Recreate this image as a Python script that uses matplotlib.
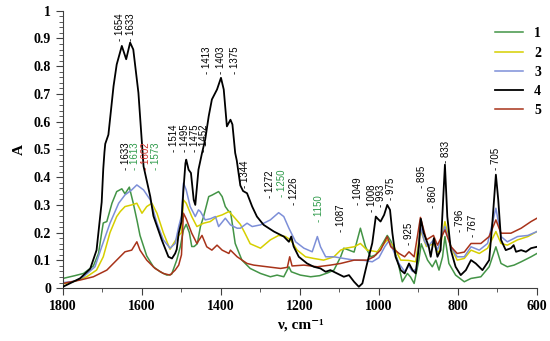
import matplotlib
matplotlib.use('Agg')
import matplotlib.pyplot as plt
from matplotlib.ticker import MultipleLocator

# spectra: wavenumber (cm-1) / absorbance
w1 = [1800, 1770, 1748, 1723, 1710, 1702, 1698, 1689, 1676, 1664, 1651, 1643, 1632, 1622, 1612, 1605,
      1588, 1571, 1554, 1537, 1525, 1512, 1503, 1495, 1488, 1480, 1474, 1468, 1460, 1452, 1444, 1431,
      1423, 1406, 1397, 1389, 1380, 1376, 1370, 1364, 1347, 1326, 1300, 1275, 1258, 1241, 1228, 1222,
      1199, 1173, 1150, 1130, 1114, 1097, 1089, 1076, 1063, 1047, 1034, 1021, 1008, 995, 979, 970,
      953, 941, 928, 920, 911, 899, 893, 877, 865, 856, 848, 839, 833, 823, 806, 784, 767, 742, 721,
      704, 691, 675, 658, 640, 615, 600]
a1 = [0.035, 0.045, 0.053, 0.08, 0.125, 0.2, 0.235, 0.24, 0.306, 0.348, 0.358, 0.34, 0.364, 0.306, 0.24, 0.19,
      0.116, 0.077, 0.059, 0.047, 0.05, 0.101, 0.149, 0.21, 0.23, 0.2, 0.15, 0.15, 0.16, 0.222, 0.258, 0.33,
      0.335, 0.348, 0.33, 0.294, 0.276, 0.276, 0.22, 0.161, 0.101, 0.071, 0.053, 0.041, 0.047, 0.041, 0.077, 0.059,
      0.047, 0.041, 0.045, 0.055, 0.065, 0.113, 0.144, 0.137, 0.13, 0.216, 0.149, 0.113, 0.12, 0.15, 0.19, 0.17,
      0.101, 0.023, 0.053, 0.04, 0.017, 0.101, 0.16, 0.101, 0.077, 0.101, 0.065, 0.113, 0.186, 0.089, 0.047, 0.023, 0.035, 0.041, 0.077,
      0.149, 0.089, 0.077, 0.083, 0.095, 0.113, 0.125]

w2 = [1800, 1770, 1740, 1715, 1698, 1681, 1664, 1655, 1643, 1626, 1613, 1600, 1588, 1575, 1562, 1546,
      1529, 1516, 1507, 1500, 1495, 1488, 1474, 1461, 1444, 1427, 1410, 1397, 1380, 1368, 1351, 1340,
      1326, 1300, 1275, 1254, 1237, 1224, 1207, 1186, 1165, 1140, 1114, 1097, 1084, 1063, 1047, 1030,
      1004, 979, 962, 945, 925, 907, 895, 880, 862, 848, 833, 818, 802, 784, 767, 746, 725, 704, 691,
      675, 649, 623, 600]
a2 = [0.015, 0.025, 0.041, 0.065, 0.113, 0.2, 0.258, 0.276, 0.294, 0.30, 0.306, 0.27, 0.294, 0.306, 0.27, 0.2,
      0.14, 0.17, 0.19, 0.2, 0.318, 0.306, 0.258, 0.222, 0.234, 0.24, 0.258, 0.264, 0.276, 0.258, 0.23, 0.2,
      0.16, 0.144, 0.174, 0.19, 0.186, 0.174, 0.137, 0.113, 0.107, 0.101, 0.113, 0.137, 0.144, 0.149, 0.161, 0.137,
      0.131, 0.174, 0.149, 0.101, 0.10, 0.095, 0.21, 0.15, 0.16, 0.125, 0.24, 0.149, 0.101, 0.107, 0.137, 0.125, 0.144, 0.204, 0.161,
      0.155, 0.174, 0.186, 0.204]

w3 = [1800, 1770, 1748, 1719, 1702, 1681, 1659, 1643, 1626, 1613, 1596, 1579, 1562, 1546, 1529, 1516,
      1507, 1500, 1495, 1488, 1478, 1465, 1457, 1452, 1440, 1427, 1414, 1406, 1389, 1376, 1368, 1359,
      1351, 1334, 1321, 1300, 1275, 1254, 1241, 1228, 1211, 1190, 1169, 1156, 1148, 1135, 1114, 1089,
      1063, 1038, 1017, 1000, 985, 975, 965, 950, 935, 925, 915, 905, 895, 885, 876, 862, 852, 833,
      818, 802, 784, 767, 746, 725, 704, 691, 675, 649, 623, 600]
a3 = [0.02, 0.025, 0.041, 0.077, 0.149, 0.234, 0.306, 0.336, 0.354, 0.372, 0.354, 0.318, 0.234, 0.174, 0.144, 0.161,
      0.222, 0.26, 0.379, 0.354, 0.294, 0.258, 0.282, 0.276, 0.246, 0.25, 0.258, 0.222, 0.252, 0.228, 0.222, 0.216,
      0.216, 0.234, 0.222, 0.228, 0.246, 0.272, 0.258, 0.216, 0.167, 0.144, 0.131, 0.186, 0.149, 0.113, 0.113, 0.107,
      0.101, 0.1, 0.095, 0.11, 0.15, 0.17, 0.14, 0.09, 0.06, 0.08, 0.06, 0.07, 0.222, 0.17, 0.149, 0.174, 0.137, 0.222,
      0.149, 0.113, 0.113, 0.149, 0.137, 0.161, 0.288, 0.186, 0.167, 0.186, 0.19, 0.204]

w4 = [1800, 1757, 1731, 1715, 1702, 1698, 1695, 1693, 1685, 1672, 1664, 1651, 1640, 1630, 1622, 1609,
      1596, 1579, 1571, 1550, 1533, 1524, 1516, 1512, 1507, 1500, 1495, 1490, 1488, 1482, 1476, 1469,
      1465, 1457, 1448, 1440, 1431, 1423, 1410, 1400, 1393, 1385, 1376, 1371, 1364, 1360, 1351, 1344,
      1334, 1321, 1309, 1292, 1266, 1241, 1228, 1222, 1216, 1203, 1182, 1165, 1148, 1135, 1123, 1106,
      1089, 1076, 1063, 1051, 1042, 1030, 1017, 1008, 1003, 996, 987, 979, 972, 966, 958, 945, 935,
      924, 915, 907, 899, 894, 887, 874, 869, 861, 852, 844, 833, 827, 818, 806, 793, 780, 767, 755,
      738, 721, 713, 704, 698, 691, 679, 666, 659, 653, 640, 628, 615, 600]
a4 = [0.005, 0.035, 0.07, 0.137, 0.31, 0.43, 0.49, 0.52, 0.553, 0.728, 0.806, 0.873, 0.825, 0.885, 0.86, 0.704,
      0.439, 0.33, 0.26, 0.174, 0.113, 0.107, 0.125, 0.14, 0.198, 0.24, 0.354, 0.45, 0.463, 0.427, 0.415, 0.318,
      0.30, 0.427, 0.487, 0.535, 0.62, 0.68, 0.716, 0.758, 0.716, 0.583, 0.607, 0.59, 0.487, 0.46, 0.37, 0.35,
      0.342, 0.294, 0.258, 0.228, 0.204, 0.186, 0.167, 0.186, 0.15, 0.113, 0.089, 0.077, 0.071, 0.059, 0.065, 0.053,
      0.041, 0.047, 0.023, 0.005, 0.017, 0.089, 0.162, 0.258, 0.25, 0.24, 0.264, 0.30, 0.282, 0.198, 0.113, 0.065, 0.053,
      0.089, 0.065, 0.053, 0.15, 0.25, 0.2, 0.15, 0.113, 0.18, 0.113, 0.137, 0.445, 0.258, 0.137, 0.077, 0.047, 0.065, 0.101, 0.089,
      0.065, 0.101, 0.234, 0.409, 0.318, 0.174, 0.137, 0.144, 0.155, 0.131, 0.137, 0.131, 0.144, 0.149]

w5 = [1800, 1757, 1723, 1689, 1664, 1643, 1626, 1613, 1605, 1588, 1567, 1546, 1529, 1516, 1507, 1500,
      1495, 1488, 1474, 1461, 1448, 1436, 1423, 1410, 1397, 1380, 1376, 1359, 1334, 1317, 1283, 1249,
      1232, 1226, 1220, 1190, 1156, 1123, 1097, 1063, 1030, 1013, 996, 979, 970, 949, 935, 924, 911,
      895, 880, 862, 852, 833, 818, 802, 784, 767, 742, 721, 704, 691, 666, 640, 615, 600]
a5 = [0.017, 0.029, 0.041, 0.065, 0.101, 0.131, 0.137, 0.167, 0.137, 0.101, 0.071, 0.053, 0.047, 0.065, 0.083, 0.12,
      0.27, 0.25, 0.198, 0.161, 0.19, 0.149, 0.137, 0.155, 0.137, 0.125, 0.137, 0.113, 0.089, 0.083, 0.077, 0.071,
      0.075, 0.113, 0.08, 0.083, 0.077, 0.083, 0.089, 0.101, 0.101, 0.113, 0.137, 0.186, 0.149, 0.125, 0.113, 0.131, 0.113,
      0.255, 0.174, 0.19, 0.155, 0.21, 0.15, 0.125, 0.13, 0.161, 0.161, 0.186, 0.246, 0.198, 0.198, 0.216, 0.24, 0.252]

series = [(w1, a1, '1', '#439446'), (w2, a2, '2', '#d6cf00'), (w3, a3, '3', '#7d8fd8'),
          (w4, a4, '4', 'black'), (w5, a5, '5', '#a8331a')]

# peak labels and where they sit (wavenumber, absorbance of label foot)
peak_text = ['1654', '1633', '1633', '1613', '1602', '1573', '1514', '1495', '1475', '1452',
             '1413', '1403', '1375', '1344', '1272', '1250', '1226', '1150', '1087', '1049',
             '1008', '993', '975', '925', '895', '860', '833', '796', '767', '705']
peak_color = ['k', 'k', 'k', 'g', 'r', 'g', 'k', 'k', 'k', 'k',
              'k', 'k', 'k', 'k', 'k', 'g', 'k', 'g', 'k', 'k',
              'k', 'k', 'k', 'k', 'k', 'k', 'k', 'k', 'k', 'k']
peak_x = [1655, 1628, 1640, 1617, 1590, 1565, 1518, 1492, 1467, 1444,
          1435, 1399, 1364, 1338, 1275, 1245, 1216, 1152, 1097, 1053,
          1017, 994, 970, 924, 890, 862, 831, 794, 763, 704]
peak_y = [0.89, 0.89, 0.427, 0.427, 0.427, 0.427, 0.49, 0.49, 0.49, 0.49,
          0.77, 0.77, 0.77, 0.36, 0.325, 0.33, 0.30, 0.24, 0.204, 0.30,
          0.276, 0.294, 0.318, 0.155, 0.36, 0.29, 0.452, 0.204, 0.186, 0.427]
cmap = {'k': 'black', 'g': '#2e9a4a', 'r': '#d0302a'}

serif = ['Liberation Serif', 'DejaVu Serif']

fig = plt.figure(figsize=(5.5, 3.41), dpi=100)
ax = fig.add_axes([0.1145, 0.155, 0.8618, 0.8137])

for w, a, lab, col in series:
    lw = 1.3 if col == 'black' else 1.1
    z = 3 if col == 'black' else 2
    ax.plot(w, a, color=col, lw=lw, label=lab, zorder=z)

for t, c, x, y in zip(peak_text, peak_color, peak_x, peak_y):
    ax.text(x, y, '- ' + t, rotation=90, ha='center', va='bottom', fontsize=7,
            family='Liberation Sans', color=cmap[c])

ax.set_xlim(1800, 600)
ax.set_ylim(0, 1)
ax.xaxis.set_major_locator(MultipleLocator(200))
ax.xaxis.set_minor_locator(MultipleLocator(100))
ax.yaxis.set_minor_locator(MultipleLocator(0.02))
ax.set_yticks([0, 0.1, 0.2, 0.3, 0.4, 0.5, 0.6, 0.7, 0.8, 0.9, 1])
ax.set_yticklabels(['0', '0.1', '0.2', '0.3', '0.4', '0.5', '0.6', '0.7', '0.8', '0.9', '1'])

for s in ['top', 'right']:
    ax.spines[s].set_visible(False)
for s in ['left', 'bottom']:
    ax.spines[s].set_color('#404040')
ax.tick_params(which='major', direction='out', length=5, color='#404040', width=0.8)
ax.tick_params(which='minor', direction='out', length=3, color='#404040', width=0.6)
for lbl in ax.get_xticklabels() + ax.get_yticklabels():
    lbl.set_family(serif)
    lbl.set_fontweight('bold')
    lbl.set_fontsize(10)

ax.set_xlabel('ν, cm⁻¹', family=serif, fontweight='bold', fontsize=11, labelpad=4)
ax.set_ylabel('A', family=serif, fontweight='bold', fontsize=11, labelpad=6)

leg = ax.legend(loc='upper right', bbox_to_anchor=(1.035, 0.985), frameon=False,
                handlelength=2.0, labelspacing=0.45, handletextpad=0.8,
                prop={'family': serif, 'weight': 'bold', 'size': 10})

fig.savefig('out.png', dpi=100)
